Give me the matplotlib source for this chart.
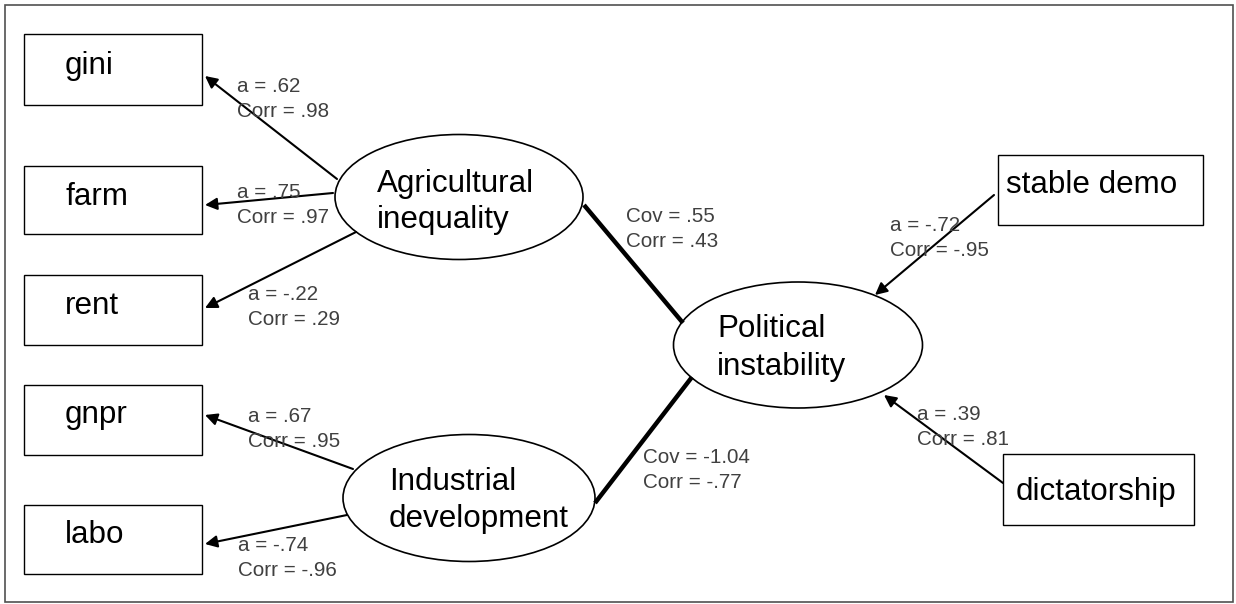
import matplotlib
import matplotlib.pyplot as plt
from matplotlib.patches import Ellipse, Rectangle, FancyArrowPatch

matplotlib.use('agg')

plt.rcParams['font.family'] = ['Liberation Sans', 'DejaVu Sans']

# observed variables and their loadings
left_vars = ['gini', 'farm', 'rent', 'gnpr', 'labo']
left_a = ['.62', '.75', '-.22', '.67', '-.74']
left_corr = ['.98', '.97', '.29', '.95', '-.96']
right_vars = ['stable demo', 'dictatorship']
right_a = ['-.72', '.39']
right_corr = ['-.95', '.81']
factors = ['Agricultural\ninequality', 'Industrial\ndevelopment', 'Political\ninstability']
cov_vals = ['.55', '-1.04']
cov_corr = ['.43', '-.77']

# layout (pixel coords, y down)
left_box_y = [34, 166, 275, 385, 505]
left_box_h = [71, 68, 70, 70, 69]
left_text_base = [74, 205, 314, 423, 543]
right_box = [(998, 155, 205, 70), (1003, 454, 191, 71)]
right_text = [(1006, 193), (1016, 500)]
ell = [(459, 197, 248, 125), (469, 498, 252, 127), (798, 345, 249, 126)]
ell_text = [(377, 192, 228), (389, 490, 527), (717, 337, 375)]
arr_left = [((337, 179), (205, 76)), ((333, 193), (205, 205)), ((356, 232), (205, 308)),
            ((353, 469), (205, 415)), ((347, 515), (205, 544))]
arr_right = [((994, 195), (875, 295)), ((1003, 483), (884, 395))]
lab_left = [(237, 92), (237, 198), (248, 300), (248, 422), (238, 551)]
lab_right = [(890, 231), (917, 420)]
cov_lines = [((584, 205), (683, 323)), ((595, 503), (692, 377))]
cov_lab = [(626, 222), (643, 463)]

fig = plt.figure(figsize=(12.36, 6.04), dpi=100)
ax = fig.add_axes([0, 0, 1, 1])
ax.set_xlim(0, 1236)
ax.set_ylim(604, 0)
ax.axis('off')

ax.add_patch(Rectangle((5, 5), 1228, 597, fill=False, ec='#505050', lw=1.2))

big = 22.6
small = 14.9
gray = '#404040'

for i, name in enumerate(left_vars):
    ax.add_patch(Rectangle((24, left_box_y[i]), 178, left_box_h[i], fill=False, ec='black', lw=1.0))
    ax.text(65, left_text_base[i], name, fontsize=big, va='baseline', ha='left')
    (x0, y0), (x1, y1) = arr_left[i]
    ax.add_patch(FancyArrowPatch((x0, y0), (x1, y1), arrowstyle='-|>', mutation_scale=18,
                                 lw=1.5, color='black', shrinkA=0, shrinkB=0))
    lx, ly = lab_left[i]
    ax.text(lx, ly, 'a = ' + left_a[i], fontsize=small, color=gray, va='baseline')
    ax.text(lx, ly + 25, 'Corr = ' + left_corr[i], fontsize=small, color=gray, va='baseline')

for i, name in enumerate(right_vars):
    bx, by, bw, bh = right_box[i]
    ax.add_patch(Rectangle((bx, by), bw, bh, fill=False, ec='black', lw=1.0))
    ax.text(right_text[i][0], right_text[i][1], name, fontsize=big, va='baseline')
    (x0, y0), (x1, y1) = arr_right[i]
    ax.add_patch(FancyArrowPatch((x0, y0), (x1, y1), arrowstyle='-|>', mutation_scale=18,
                                 lw=1.5, color='black', shrinkA=0, shrinkB=0))
    lx, ly = lab_right[i]
    ax.text(lx, ly, 'a = ' + right_a[i], fontsize=small, color=gray, va='baseline')
    ax.text(lx, ly + 25, 'Corr = ' + right_corr[i], fontsize=small, color=gray, va='baseline')

for i, f in enumerate(factors):
    cx, cy, w, h = ell[i]
    ax.add_patch(Ellipse((cx, cy), w, h, fill=False, ec='black', lw=1.2))
    l1, l2 = f.split('\n')
    tx, b1, b2 = ell_text[i]
    ax.text(tx, b1, l1, fontsize=big, va='baseline')
    ax.text(tx, b2, l2, fontsize=big, va='baseline')

for i in range(2):
    (x0, y0), (x1, y1) = cov_lines[i]
    ax.plot([x0, x1], [y0, y1], color='black', lw=3.2, solid_capstyle='butt')
    lx, ly = cov_lab[i]
    ax.text(lx, ly, 'Cov = ' + cov_vals[i], fontsize=small, color=gray, va='baseline')
    ax.text(lx, ly + 25, 'Corr = ' + cov_corr[i], fontsize=small, color=gray, va='baseline')

plt.savefig('out.png', dpi=100)
